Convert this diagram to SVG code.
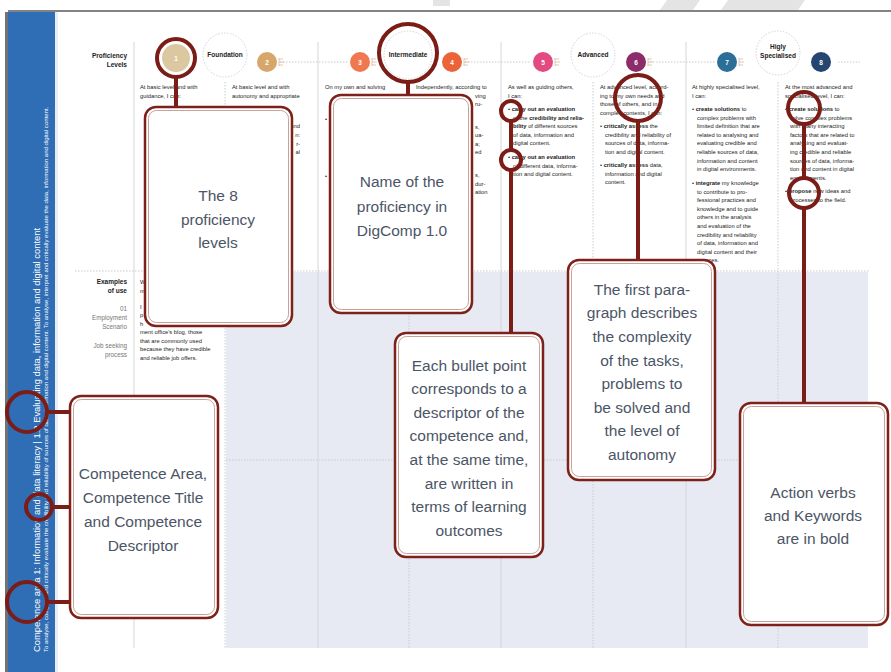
<svg xmlns="http://www.w3.org/2000/svg" width="891" height="672" viewBox="0 0 891 672">
<defs>
<style>
.sm{font-family:"Liberation Sans",Arial,sans-serif;font-size:5.8px;fill:#222}
.lbl{font-family:"Liberation Sans",Arial,sans-serif;font-size:6.5px;fill:#222;font-weight:bold}
.grey{font-family:"Liberation Sans",Arial,sans-serif;font-size:6.3px;fill:#777}
.num{font-family:"Liberation Sans",Arial,sans-serif;font-size:6.5px;fill:#fff;font-weight:bold;text-anchor:middle}
.call{font-family:"Liberation Sans",Arial,sans-serif;font-size:15.5px;fill:#4c5566;text-anchor:middle}
.box{fill:#fff;stroke:#7e211a;stroke-width:2.5}
.boxin{fill:none;stroke:#c7a19b;stroke-width:1}
.ring{fill:none;stroke:#7b1c16;stroke-width:4}
.con{stroke:#7b1c16;stroke-width:4;fill:none}
.vs{stroke:#d4d6da;stroke-width:1}
.vd{stroke:#c8cacf;stroke-width:1;stroke-dasharray:1.5 1.5}
.dc{fill:#fff;stroke:#c8c8c8;stroke-width:0.8;stroke-dasharray:1.5 1.5}
.tick{stroke:#d9b9a0;stroke-width:0.8}
.band{font-family:"Liberation Sans",Arial,sans-serif;fill:#fff}
</style>
</defs>
<rect x="0" y="0" width="891" height="672" fill="#fff"/>
<!-- faint watermark shapes at top -->
<polygon points="667,0 700,0 693,10 660,10" fill="#e4e4e4"/>
<polygon points="728,0 805,0 798,10 721,10" fill="#e4e4e4"/>
<polygon points="433,0 450,0 450,6 433,6" fill="#e4e4e4"/>
<!-- top frame line -->
<line x1="8" y1="11" x2="891" y2="11" stroke="#5a5a5a" stroke-width="1.5"/>
<!-- left blue band -->
<rect x="5" y="12" width="3" height="660" fill="#6f7377"/>
<rect x="8" y="12" width="47" height="660" fill="#2f6db5"/>
<rect x="55" y="12" width="3" height="660" fill="#e9eef5"/>
<text class="band" font-size="9.4" transform="translate(39.5,652) rotate(-90)">Competence area 1: Information and data literacy | 1.2 Evaluating data, information and digital content</text>
<text class="band" font-size="6" transform="translate(47.5,652) rotate(-90)">To analyse, compare and critically evaluate the credibility and reliability of sources of data, information and digital content. To analyse, interpret and critically evaluate the data, information and digital content.</text>
<!-- examples background -->
<rect x="226" y="272" width="642" height="376" fill="#e7eaf3"/>
<!-- grid -->
<g id="grid">
<line class="vs" x1="134" y1="42" x2="134" y2="648"/>
<line class="vs" x1="318" y1="42" x2="318" y2="648"/>
<line class="vs" x1="501" y1="42" x2="501" y2="648"/>
<line class="vs" x1="686" y1="42" x2="686" y2="648"/>
<line class="vd" x1="225" y1="82" x2="225" y2="648"/>
<line class="vd" x1="409" y1="82" x2="409" y2="648"/>
<line class="vd" x1="593" y1="82" x2="593" y2="648"/>
<line class="vd" x1="778" y1="82" x2="778" y2="648"/>
<line class="vd" x1="75" y1="271" x2="870" y2="271"/>
<line class="vd" x1="226" y1="460" x2="868" y2="460"/>
<line class="vd" x1="280" y1="62" x2="348" y2="62"/>
<line class="vd" x1="465" y1="62" x2="531" y2="62"/>
<line class="vd" x1="650" y1="62" x2="715" y2="62"/>
<line class="vd" x1="838" y1="62" x2="860" y2="62"/>
</g>
<!-- header -->
<g id="header">
<text class="lbl" x="127" y="58" text-anchor="end">Proficiency</text>
<text class="lbl" x="127" y="66.5" text-anchor="end">Levels</text>
<circle cx="225" cy="55" r="22" class="dc"/>
<text class="lbl" x="225" y="57" text-anchor="middle">Foundation</text>
<circle cx="408" cy="55" r="24" class="dc"/>
<text class="lbl" x="408" y="57" text-anchor="middle">Intermediate</text>
<circle cx="593" cy="55" r="22" class="dc"/>
<text class="lbl" x="593" y="57" text-anchor="middle">Advanced</text>
<circle cx="778" cy="53" r="22" class="dc"/>
<text class="lbl" x="778" y="49" text-anchor="middle">Higly</text>
<text class="lbl" x="778" y="57.5" text-anchor="middle">Specialised</text>
<circle cx="176" cy="58" r="14" fill="#dcc8a0"/>
<text class="num" x="176" y="60.5">1</text>
<circle cx="267" cy="62" r="10" fill="#d6a66a"/>
<text class="num" x="267" y="64.5">2</text>
<circle cx="360" cy="62" r="10" fill="#f07850"/>
<text class="num" x="360" y="64.5">3</text>
<circle cx="452" cy="62" r="10" fill="#ea6438"/>
<text class="num" x="452" y="64.5">4</text>
<circle cx="543" cy="62" r="10" fill="#e34a7f"/>
<text class="num" x="543" y="64.5">5</text>
<circle cx="636" cy="62" r="10" fill="#8d2c6b"/>
<text class="num" x="636" y="64.5">6</text>
<circle cx="727" cy="62" r="10" fill="#2b6e98"/>
<text class="num" x="727" y="64.5">7</text>
<circle cx="821" cy="62" r="10" fill="#26466f"/>
<text class="num" x="821" y="64.5">8</text>
<path class="tick" d="M279 58v8M279 59h4M279 62h5M279 65h4"/>
<path class="tick" d="M372 58v8M372 59h4M372 62h5M372 65h4" stroke="#f3a58a"/>
<path class="tick" d="M464 58v8M464 59h4M464 62h5M464 65h4" stroke="#f0a080"/>
<path class="tick" d="M555 58v8M555 59h4M555 62h5M555 65h4" stroke="#ee9ab8"/>
<path class="tick" d="M648 58v8M648 59h4M648 62h5M648 65h4" stroke="#c58fb3"/>
<path class="tick" d="M739 58v8M739 59h4M739 62h5M739 65h4" stroke="#8fb3cb"/>
</g>
<!-- column texts -->
<g id="columns">
<text class="sm" x="140" y="89">At basic level and with</text>
<text class="sm" x="140" y="97.6">guidance, I can:</text>
<text class="sm" x="232" y="89">At basic level and with</text>
<text class="sm" x="232" y="97.6">autonomy and appropriate</text>
<text class="sm" x="300" y="128" text-anchor="end">y and</text>
<text class="sm" x="300" y="137" text-anchor="end">n:</text>
<text class="sm" x="300" y="145.5" text-anchor="end">r-</text>
<text class="sm" x="300" y="154" text-anchor="end">al</text>
<text class="sm" x="325" y="89">On my own and solving</text>
<text class="sm" x="325" y="121">•</text>
<text class="sm" x="325" y="178">•</text>
<text class="sm" x="416" y="89">Independently, according to</text>
<text class="sm" x="475" y="97.6">ving</text>
<text class="sm" x="475" y="106">ru-</text>
<text class="sm" x="475" y="129">s,</text>
<text class="sm" x="475" y="137">ua-</text>
<text class="sm" x="475" y="145.5">a;</text>
<text class="sm" x="475" y="154">ed</text>
<text class="sm" x="475" y="177">s,</text>
<text class="sm" x="475" y="185.5">dur-</text>
<text class="sm" x="475" y="194">ation</text>

<text class="sm" x="508" y="89">As well as guiding others,</text>
<text class="sm" x="508" y="97.6">I can:</text>
<text class="sm" x="508" y="111">• <tspan font-weight="bold">carry out an evaluation</tspan></text>
<text class="sm" x="513" y="119.6">of the <tspan font-weight="bold">credibility and relia-</tspan></text>
<text class="sm" x="513" y="128.2"><tspan font-weight="bold">bility</tspan> of different sources</text>
<text class="sm" x="513" y="136.8">of data, information and</text>
<text class="sm" x="513" y="145.4">digital content.</text>
<text class="sm" x="508" y="159">• <tspan font-weight="bold">carry out an evaluation</tspan></text>
<text class="sm" x="513" y="167.6">of different data, informa-</text>
<text class="sm" x="513" y="176.2">tion and digital content.</text>

<text class="sm" x="600" y="89">At advanced level, accord-</text>
<text class="sm" x="600" y="97.6">ing to my own needs and</text>
<text class="sm" x="600" y="106.2">those of others, and in</text>
<text class="sm" x="600" y="114.8">complex contexts, I can:</text>
<text class="sm" x="600" y="128">• <tspan font-weight="bold">critically assess</tspan> the</text>
<text class="sm" x="605" y="136.6">credibility and reliability of</text>
<text class="sm" x="605" y="145.2">sources of data, informa-</text>
<text class="sm" x="605" y="153.8">tion and digital content.</text>
<text class="sm" x="600" y="167">• <tspan font-weight="bold">critically assess</tspan> data,</text>
<text class="sm" x="605" y="175.6">information and digital</text>
<text class="sm" x="605" y="184.2">content.</text>

<text class="sm" x="692" y="89">At highly specialised level,</text>
<text class="sm" x="692" y="97.6">I can:</text>
<text class="sm" x="692" y="111">• <tspan font-weight="bold">create solutions</tspan> to</text>
<text class="sm" x="697" y="119.6">complex problems with</text>
<text class="sm" x="697" y="128.2">limited definition that are</text>
<text class="sm" x="697" y="136.8">related to analysing and</text>
<text class="sm" x="697" y="145.4">evaluating credible and</text>
<text class="sm" x="697" y="154">reliable sources of data,</text>
<text class="sm" x="697" y="162.6">information and content</text>
<text class="sm" x="697" y="171.2">in digital environments.</text>
<text class="sm" x="692" y="185">• <tspan font-weight="bold">integrate</tspan> my knowledge</text>
<text class="sm" x="697" y="193.6">to contribute to pro-</text>
<text class="sm" x="697" y="202.2">fessional practices and</text>
<text class="sm" x="697" y="210.8">knowledge and to guide</text>
<text class="sm" x="697" y="219.4">others in the analysis</text>
<text class="sm" x="697" y="228">and evaluation of the</text>
<text class="sm" x="697" y="236.6">credibility and reliability</text>
<text class="sm" x="697" y="245.2">of data, information and</text>
<text class="sm" x="697" y="253.8">digital content and their</text>
<text class="sm" x="697" y="262.4">sources.</text>

<text class="sm" x="785" y="89">At the most advanced and</text>
<text class="sm" x="785" y="97.6">specialised level, I can:</text>
<text class="sm" x="785" y="111">• <tspan font-weight="bold">create solutions</tspan> to</text>
<text class="sm" x="790" y="119.6">solve complex problems</text>
<text class="sm" x="790" y="128.2">with many interacting</text>
<text class="sm" x="790" y="136.8">factors that are related to</text>
<text class="sm" x="790" y="145.4">analysing and evaluat-</text>
<text class="sm" x="790" y="154">ing credible and reliable</text>
<text class="sm" x="790" y="162.6">sources of data, informa-</text>
<text class="sm" x="790" y="171.2">tion and content in digital</text>
<text class="sm" x="790" y="179.8">environments.</text>
<text class="sm" x="785" y="193">• <tspan font-weight="bold">propose</tspan> new ideas and</text>
<text class="sm" x="790" y="201.6">processes to the field.</text>
</g>
<!-- examples -->
<g id="examples">
<text class="lbl" x="127" y="284" text-anchor="end">Examples</text>
<text class="lbl" x="127" y="292.5" text-anchor="end">of use</text>
<text class="grey" x="127" y="311" text-anchor="end">01</text>
<text class="grey" x="127" y="320" text-anchor="end">Employment</text>
<text class="grey" x="127" y="329" text-anchor="end">Scenario</text>
<text class="grey" x="127" y="348" text-anchor="end">Job seeking</text>
<text class="grey" x="127" y="357" text-anchor="end">process</text>
<text class="sm" x="140" y="284">W</text>
<text class="sm" x="140" y="292.5">m</text>
<text class="sm" x="140" y="309">I</text>
<text class="sm" x="140" y="317">p</text>
<text class="sm" x="140" y="325.5">h</text>
<text class="sm" x="140" y="334">ment office's blog, those</text>
<text class="sm" x="140" y="342.6">that are commonly used</text>
<text class="sm" x="140" y="351.2">because they have credible</text>
<text class="sm" x="140" y="359.8">and reliable job offers.</text>
</g>
<!-- connectors -->
<g id="connectors">
<circle class="ring" cx="176" cy="58" r="19"/>
<line class="con" x1="176" y1="77" x2="176" y2="108"/>
<circle class="ring" cx="408" cy="53" r="29"/>
<line class="con" x1="408" y1="82" x2="408" y2="96"/>
<circle class="ring" cx="511" cy="111" r="10"/>
<circle class="ring" cx="511" cy="160" r="10"/>
<line class="con" x1="511" y1="121" x2="511" y2="150"/>
<line class="con" x1="511" y1="170" x2="511" y2="334"/>
<circle class="ring" cx="638" cy="98" r="23"/>
<line class="con" x1="638" y1="121" x2="638" y2="261"/>
<circle class="ring" cx="804" cy="108" r="16"/>
<circle class="ring" cx="804" cy="193" r="15"/>
<line class="con" x1="804" y1="124" x2="804" y2="178"/>
<line class="con" x1="804" y1="208" x2="804" y2="404"/>
<circle class="ring" cx="27" cy="412" r="20"/>
<circle class="ring" cx="39" cy="507" r="13"/>
<circle class="ring" cx="27" cy="602" r="20"/>
<line class="con" x1="47" y1="412" x2="71" y2="412"/>
<line class="con" x1="52" y1="507" x2="71" y2="507"/>
<line class="con" x1="47" y1="602" x2="71" y2="602"/>
</g>
<!-- callouts -->
<g id="levels-box">
<rect class="box" x="145" y="107" width="147" height="219" rx="11"/>
<rect class="boxin" x="148.5" y="110.5" width="140" height="212" rx="8"/>
<text class="call" x="218" y="200.5">The 8</text>
<text class="call" x="218" y="224.5">proficiency</text>
<text class="call" x="218" y="248">levels</text>
</g>
<g id="name-box">
<rect class="box" x="330" y="95" width="142" height="218" rx="11"/>
<rect class="boxin" x="333.5" y="98.5" width="135" height="211" rx="8"/>
<text class="call" x="402" y="187">Name of the</text>
<text class="call" x="402" y="211.5">proficiency in</text>
<text class="call" x="402" y="236">DigComp 1.0</text>
</g>
<g id="bullet-box">
<rect class="box" x="395" y="333" width="148" height="224" rx="11"/>
<rect class="boxin" x="398.5" y="336.5" width="141" height="217" rx="8"/>
<text class="call" x="469" y="370.5">Each bullet point</text>
<text class="call" x="469" y="394">corresponds to a</text>
<text class="call" x="469" y="417.5">descriptor of the</text>
<text class="call" x="469" y="441">competence and,</text>
<text class="call" x="469" y="465">at the same time,</text>
<text class="call" x="469" y="488.5">are written in</text>
<text class="call" x="469" y="512">terms of learning</text>
<text class="call" x="469" y="535.5">outcomes</text>
</g>
<g id="paragraph-box">
<rect class="box" x="568" y="260" width="147" height="220" rx="11"/>
<rect class="boxin" x="571.5" y="263.5" width="140" height="213" rx="8"/>
<text class="call" x="642" y="294.5">The first para-</text>
<text class="call" x="642" y="318">graph describes</text>
<text class="call" x="642" y="342">the complexity</text>
<text class="call" x="642" y="365.5">of the tasks,</text>
<text class="call" x="642" y="389">problems to</text>
<text class="call" x="642" y="412.5">be solved and</text>
<text class="call" x="642" y="436">the level of</text>
<text class="call" x="642" y="459.5">autonomy</text>
</g>
<g id="bold-box">
<rect class="box" x="740" y="403" width="148" height="222" rx="11"/>
<rect class="boxin" x="743.5" y="406.5" width="141" height="215" rx="8"/>
<text class="call" x="813" y="497.5">Action verbs</text>
<text class="call" x="813" y="521">and Keywords</text>
<text class="call" x="813" y="544">are in bold</text>
</g>
<g id="competence-box">
<rect class="box" x="70" y="396" width="148" height="222" rx="11"/>
<rect class="boxin" x="73.5" y="399.5" width="141" height="215" rx="8"/>
<text class="call" x="143" y="478.5">Competence Area,</text>
<text class="call" x="143" y="502.5">Competence Title</text>
<text class="call" x="143" y="527">and Competence</text>
<text class="call" x="143" y="550.5">Descriptor</text>
</g>
</svg>
